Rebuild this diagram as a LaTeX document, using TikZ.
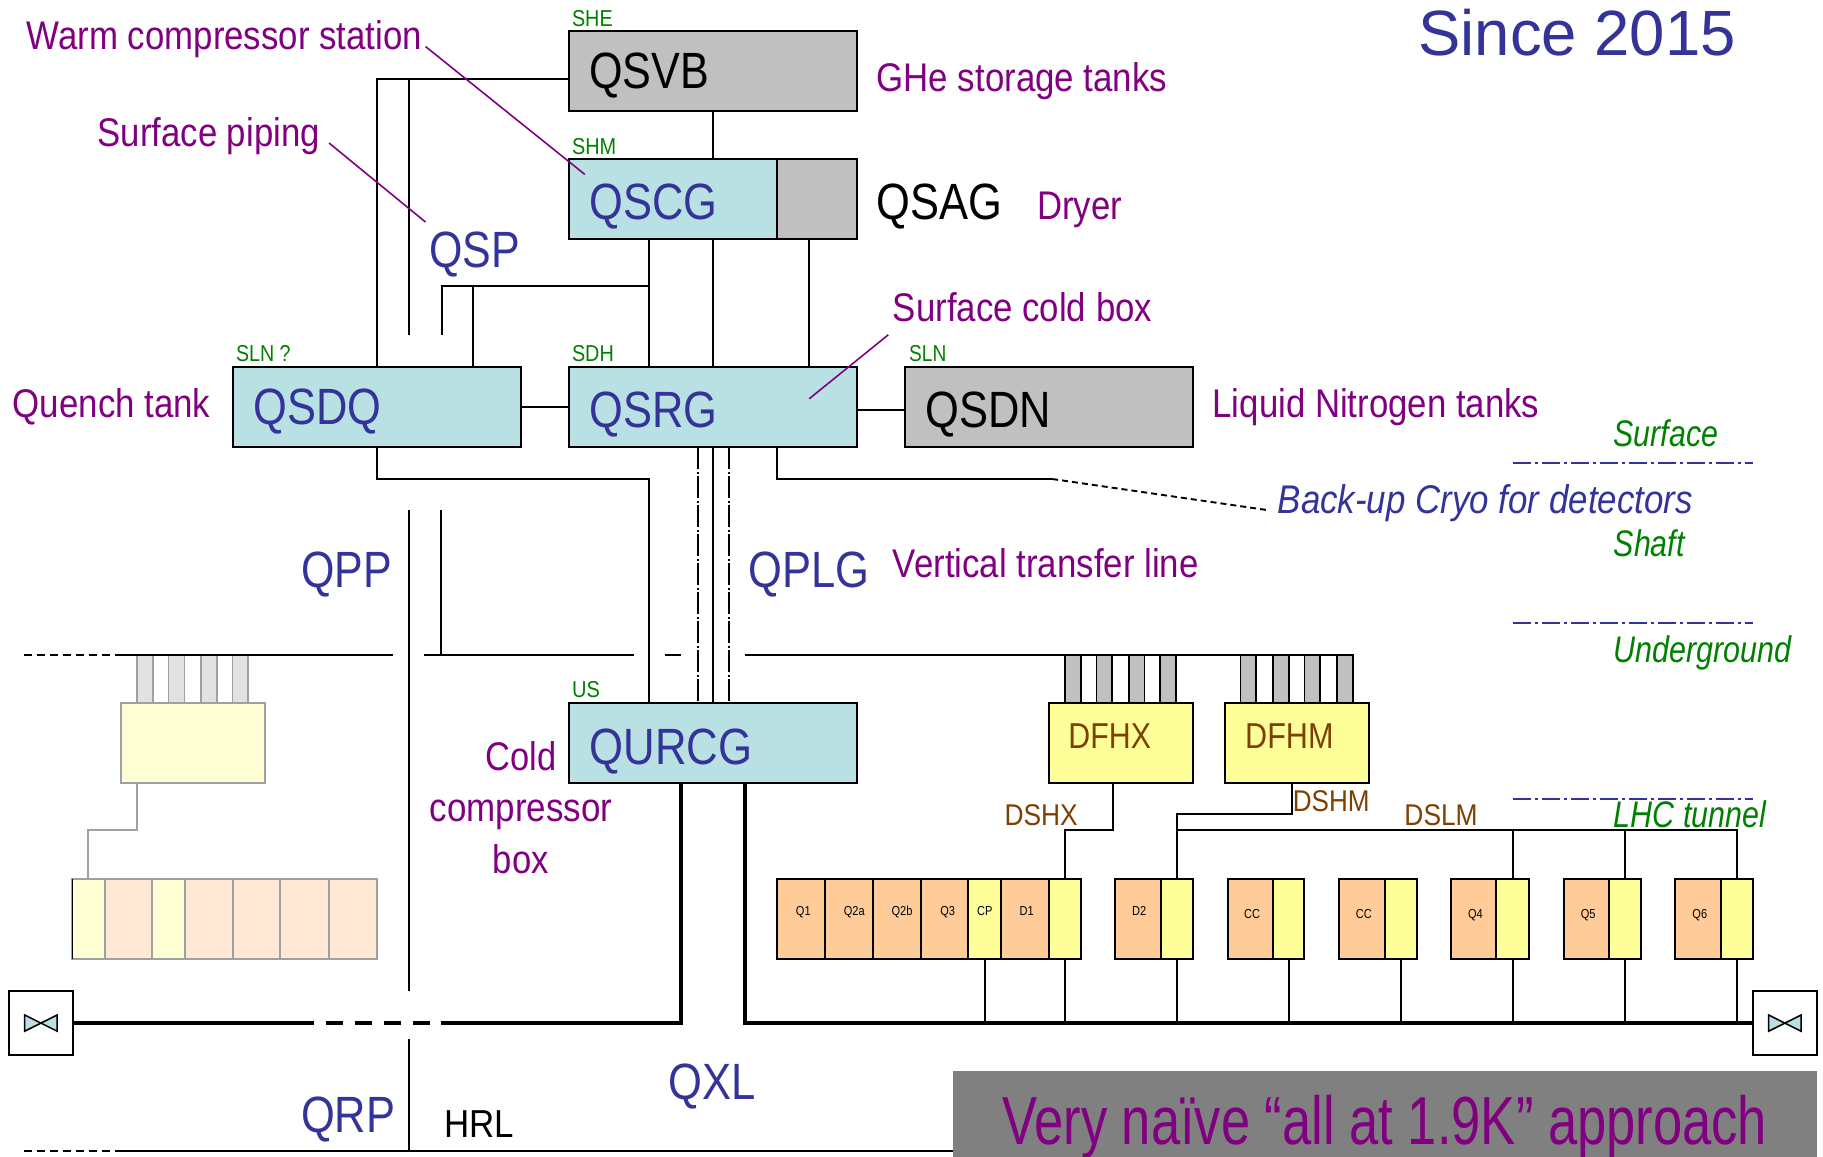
\documentclass[tikz,border=0pt]{standalone}
\usepackage{fontspec}
\usepackage{graphicx}
\setmainfont{Liberation Sans}
\definecolor{cblue}{HTML}{333399}
\definecolor{cpurple}{HTML}{800080}
\definecolor{cgreen}{HTML}{008000}
\definecolor{cbrown}{HTML}{7F3F00}
\definecolor{cteal}{HTML}{B9E0E2}
\definecolor{cgray}{HTML}{C0C0C0}
\definecolor{cyell}{HTML}{FFFF99}
\definecolor{cpeach}{HTML}{FFCC99}
\definecolor{lyell}{HTML}{FFFFD5}
\definecolor{lpeach}{HTML}{FFE9D5}
\definecolor{lstub}{HTML}{E2E2E2}
\definecolor{lline}{HTML}{A0A0A0}
\definecolor{cbar}{HTML}{808080}
\newsavebox\fitbx
\newcommand\fitw[2]{\leavevmode\sbox\fitbx{#2}\pgfmathsetmacro\fitr{#1*1.16263/\the\wd\fitbx}\scalebox{\fitr}[1]{\usebox\fitbx}}
\newcommand\fsz[1]{\fontsize{#1}{#1}\selectfont}
% text inside a box: width in px, baseline drop below box centre in pt
\newcommand\bxt[3]{\smash{\raisebox{-#3pt}{\fitw{#1}{#2}}}}
% cell labels: horizontal push, raise
\newcommand\cel[3]{\hspace*{#1pt}\smash{\raisebox{#2pt}{\scalebox{.85}[1]{#3}}}}
\tikzset{
  x=1.16263pt,y=-1.16263pt,
  sx/.style={xshift=#1*1.16263pt},
  sy/.style={yshift=-#1*1.16263pt},
  bx/.style 2 args={draw=black,line width=2pt,anchor=north west,outer sep=0pt,inner ysep=0pt,
     inner xsep=18*1.16263pt,minimum height=68.5*1.16263pt,text width=(#1-36)*1.16263pt,align=left,fill=#2},
  big/.style={font=\fsz{51}},
  plain/.style={draw=black,line width=2pt,anchor=north west,outer sep=0pt,inner sep=0pt,
     minimum height=68.5*1.16263pt,minimum width=#1*1.16263pt},
  stub/.style={anchor=north west,outer sep=0pt,inner sep=0pt,minimum height=42*1.16263pt,minimum width=13.5*1.16263pt},
  stubd/.style={stub,draw=#1},
  cell/.style 2 args={draw=black,line width=2pt,anchor=north west,outer sep=0pt,inner sep=0pt,
     minimum height=69*1.16263pt,minimum width=#1*1.16263pt,fill=#2,font=\fsz{13}},
  pcell/.style 2 args={draw=lline,line width=2pt,anchor=north west,outer sep=0pt,inner sep=0pt,
     minimum height=69*1.16263pt,minimum width=#1*1.16263pt,fill=#2},
  gate/.style={draw=black,line width=2pt,fill=white,minimum width=55.5*1.16263pt,minimum height=55*1.16263pt,outer sep=0pt,inner sep=0pt},
  lab/.style={anchor=base west,inner sep=0pt,outer sep=0pt},
  pur/.style={lab,text=cpurple,font=\fsz{40}},
  blu/.style={lab,text=cblue,font=\fsz{51}},
  grn/.style={lab,text=cgreen,font=\fsz{23}},
  itg/.style={lab,text=cgreen,font=\fsz{37}\itshape},
  brn/.style={lab,text=cbrown,font=\fsz{30}},
  wire/.style={draw=black,line width=2pt},
  thick wire/.style={draw=black,line width=4pt},
  thin wire/.style={draw=black,line width=1.9pt},
  cmark/.style={draw=cpurple,line width=1.6pt},
  level/.style={draw=cblue,line width=1.9pt,dash pattern=on 18pt off 4pt on 3pt off 4pt},
  ddot/.style={draw=black,line width=1.9pt,dash pattern=on 22pt off 3pt on 2pt off 2pt},
  ground/.style={draw=black,line width=2.1pt},
  gdash/.style={draw=black,line width=2.1pt,dash pattern=on 8pt off 5pt},
}
\begin{document}
\begin{tikzpicture}
\useasboundingbox (0,0) rectangle (1568,995);
% stubs (below main level line)
\foreach \n/\xx in {a/118,b/145,c/173,d/200}
  \node[stubd=lline,fill=lstub,line width=1.5pt] (stub\n) at (\xx,563) {};
\foreach \n/\xx in {a/916,b/943,c/971,d/998,e/1067,f/1095,g/1122,h/1150}
  \node[stubd=black,fill=cgray,line width=1.7pt] (stubr\n) at (\xx,563) {};
% main boxes
\node[bx={248}{cgray},big,text=black] (qsvb) at (489,27) {\bxt{103}{QSVB}{17.5}};
\node[bx={179}{cteal},big,text=cblue] (qscg) at (489,137) {\bxt{110}{QSCG}{20}};
\node[plain=69,fill=cgray] (qsagbox) at (668,137) {};
\node[bx={248}{cteal},big,text=cblue] (qsrg) at (489,316) {\bxt{110}{QSRG}{20}};
\node[bx={248}{cteal},big,text=cblue] (qsdq) at (200,316) {\bxt{110}{QSDQ}{17}};
\node[bx={248}{cgray},big,text=black] (qsdn) at (778,316) {\bxt{108}{QSDN}{20}};
\node[bx={248}{cteal},big,text=cblue] (qurcg) at (489,605) {\bxt{140}{QURCG}{21}};
\node[plain=124,draw=lline,fill=lyell] (lbox) at (104,605) {};
\node[bx={124}{cyell},font=\fsz{36},text=cbrown,inner xsep=17*1.16263pt,text width=90*1.16263pt] (dfhx) at (902,605) {\bxt{71}{DFHX}{5}};
\node[bx={123.5}{cyell},font=\fsz{36},text=cbrown,inner xsep=17*1.16263pt,text width=89.5*1.16263pt] (dfhm) at (1054,605) {\bxt{76}{DFHM}{5}};
% left string (pale)
\node[pcell={28}{lyell}] (p1) at (62,756) {};
\node[pcell={41}{lpeach}] (p2) at (90,756) {};
\node[pcell={28}{lyell}] (p3) at (131,756) {};
\node[pcell={41}{lpeach}] (p4) at (159,756) {};
\node[pcell={41}{lpeach}] (p5) at (200,756) {};
\node[pcell={42}{lpeach}] (p6) at (241,756) {};
\node[pcell={41}{lpeach}] (p7) at (283,756) {};
% right string
\node[cell={42}{cpeach}] (q1) at (668,756) {\cel{4.6}{3.8}{Q1}};
\node[cell={41}{cpeach}] (q2a) at (710,756) {\cel{10}{3.8}{Q2a}};
\node[cell={41}{cpeach}] (q2b) at (751,756) {\cel{10}{3.8}{Q2b}};
\node[cell={41}{cpeach}] (q3) at (792,756) {\cel{6}{3.8}{Q3}};
\node[cell={28}{cyell}] (cp) at (833,756) {\cel{0}{3.8}{CP}};
\node[cell={41}{cpeach}] (d1) at (861,756) {\cel{3.5}{3.8}{D1}};
\node[cell={28}{cyell}] (y1) at (902,756) {};
\node[cell={40}{cpeach}] (d2) at (959,756) {\cel{2}{3.8}{D2}};
\node[cell={27}{cyell}] (y2) at (999,756) {};
\node[cell={39}{cpeach}] (cc1) at (1056,756) {\cel{3.5}{0.9}{CC}};
\node[cell={27}{cyell}] (y3) at (1095,756) {};
\node[cell={39}{cpeach}] (cc2) at (1152,756) {\cel{3.5}{0.9}{CC}};
\node[cell={28}{cyell}] (y4) at (1191,756) {};
\node[cell={39}{cpeach}] (q4) at (1248,756) {\cel{3.5}{0.9}{Q4}};
\node[cell={28}{cyell}] (y5) at (1287,756) {};
\node[cell={39}{cpeach}] (q5) at (1345,756) {\cel{3.5}{0.9}{Q5}};
\node[cell={27.5}{cyell}] (y6) at (1384,756) {};
\node[cell={39}{cpeach}] (q6) at (1441,756) {\cel{3.5}{0.9}{Q6}};
\node[cell={27.5}{cyell}] (y7) at (1480,756) {};
% gates
\node[gate] (gl) at (35.2,880) {};
\node[gate] (gr) at (1535.2,880) {};
\foreach \g in {gl,gr}
  \draw[fill=cteal,draw=black,line width=1.5pt] ([sx=-14,sy=-7]\g.center) -- ([sx=14,sy=7]\g.center) -- ([sx=14,sy=-7]\g.center) -- ([sx=-14,sy=7]\g.center) -- cycle;
% bottom bar
\node[anchor=north west,fill=cbar,minimum width=743*1.16263pt,minimum height=74*1.16263pt,inner sep=0pt,outer sep=0pt] (bar) at (820,921) {};
% named free ends
\coordinate (j1) at (352,68);
\coordinate (e1) at (352,288);
\coordinate (e2) at (380,288);
\coordinate (j2) at (558,246);
\coordinate (j3) at (407,246);
\coordinate (j4) at (558,412);
\coordinate (j5) at (905,412);
\coordinate (e5) at (1092,439);
\coordinate (e3) at (352,439);
\coordinate (e4) at (352,852);
\coordinate (e6) at (352,894);
\coordinate (e7) at (379.5,439);
\coordinate (m0) at (21,563);
\coordinate (m1) at (103,563);
\coordinate (m2) at (338,563);
\coordinate (m3) at (365,563);
\coordinate (m4) at (545,563);
\coordinate (m5) at (572,563);
\coordinate (m6) at (586,563);
\coordinate (m7) at (641,563);
\coordinate (m8) at (1163,563);
\coordinate (b0) at (21,990);
\coordinate (b1) at (103,990);
\coordinate (t1) at (270,880);
\coordinate (t2) at (379,880);
\coordinate (j6) at (916,714);
\coordinate (j7) at (1012.5,700);
\coordinate (j8) at (1012.5,714);
\coordinate (g1) at (118,714);
\coordinate (g2) at (76,714);
% ground levels
\draw[gdash] (m0) -- (m1);
\draw[ground] (m1) -- (m2) (m3) -- (m4) (m5) -- (m6) (m7) -- (m8);
\draw[gdash] (b0) -- (b1);
\draw[ground] (b1) -- (bar.south west |- b1);
% surface connectors
\draw[wire] ([sy=7]qsvb.west) -| (qsdq.north);
\draw[wire] (j1) -- (e1);
\draw[wire] (e2) |- (j2);
\draw[wire] ([sx=83]qsdq.north) -- (j3);
\draw[wire] (qsvb.south) -- (qsvb.south |- qscg.north);
\draw[wire] ([sx=-55]qsrg.north) -- ([sx=-55]qsrg.north |- qscg.south);
\draw[wire] (qsrg.north) -- (qsrg.north |- qscg.south);
\draw[wire] ([sx=83]qsrg.north) -- ([sx=83]qsrg.north |- qsagbox.south);
\draw[wire] (qsdq.east) -- (qsrg.west);
\draw[wire] ([sy=2]qsrg.east) -- ([sy=2]qsdn.west);
\draw[wire] (qsrg.south) -- (qurcg.north);
\draw[ddot] ([sx=-13]qsrg.south) -- ([sx=-13]qurcg.north);
\draw[ddot] ([sx=14]qsrg.south) -- ([sx=14]qurcg.north);
\draw[wire] (qsdq.south) |- (j4) -- ([sx=-55]qurcg.north);
\draw[wire] ([sx=55]qsrg.south) |- (j5);
\draw[thin wire,dash pattern=on 6pt off 4pt] (j5) -- (e5);
\draw[wire] (e3) -- (e4);
\draw[wire] (e6) -- (e6 |- b1);
\draw[wire] (e7) -- (e7 |- m1);
% helium line
\draw[thick wire] (gl.east) -- (t1);
\draw[thick wire,dash pattern=on 17.5pt off 11.5pt] ([sx=10]t1) -- ([sx=-9]t2);
\draw[thick wire] (t2) -| ([sx=-27]qurcg.south);
\draw[thick wire] (gr.west) -| ([sx=28]qurcg.south);
% pale string link
\draw[draw=lline,line width=2pt] ([sx=-48]lbox.south) -- (g1) -- (g2) -- (g2 |- p1.north);
\draw[draw=black,line width=1pt] (p1.north west) -- (p1.south west);
% current feeds
\draw[wire] ([sx=-7]dfhx.south) |- (j6) -- (y1.north);
\draw[wire] ([sx=-4.5]dfhm.south) |- (j7) -- (y2.north);
\draw[wire] (j8) -| (y7.north);
\draw[thin wire] (y5.north) -- (y5.north |- j8);
\draw[thin wire] (y6.north) -- (y6.north |- j8);
\foreach \c in {cp,y1,y2,y3,y4,y5,y6,y7}
  \draw[thin wire] (\c.south) -- (\c.south |- gr.west);
% level lines
\coordinate (l1a) at (1301,398);\coordinate (l1b) at (1508,398);
\coordinate (l2a) at (1301,535.9);\coordinate (l2b) at (1508,535.9);
\coordinate (l3a) at (1301,687);\coordinate (l3b) at (1508,687);
\draw[level] (l1a) -- (l1b);
\draw[level] (l2a) -- (l2b);
\draw[level] (l3a) -- (l3b);
% labels
\node[pur] (warm) at (23,43) {\fitw{340}{Warm compressor station}};
\node[pur] (piping) at (84,125.6) {\fitw{191}{Surface piping}};
\node[pur] (ghe) at (754,79) {\fitw{250}{GHe storage tanks}};
\node[pur] (dryer) at (892,189) {\fitw{73}{Dryer}};
\node[pur] (scb) at (768,276.6) {\fitw{223}{Surface cold box}};
\node[pur] (quench) at (11,359) {\fitw{170}{Quench tank}};
\node[pur] (lnt) at (1043,359) {\fitw{281}{Liquid Nitrogen tanks}};
\node[pur] (vtl) at (768,497) {\fitw{263}{Vertical transfer line}};
\node[anchor=center,inner sep=0pt,outer sep=0pt,align=center,text=cpurple,font=\fontsize{40}{51.5}\selectfont] (cold) at (448,694.5) {\fitw{61}{Cold}\\\fitw{157}{compressor}\\\fitw{48}{box}};
\node[lab,big,text=black] (qsag) at (754,189) {\fitw{108}{QSAG}};
\node[blu] (qsp) at (369,230) {\fitw{78}{QSP}};
\node[blu] (qpp) at (259,505) {\fitw{78}{QPP}};
\node[blu] (qplg) at (644,505) {\fitw{104}{QPLG}};
\node[blu] (qxl) at (575,946) {\fitw{75}{QXL}};
\node[blu] (qrp) at (259,974) {\fitw{81}{QRP}};
\node[lab,text=black,font=\fsz{39}] (hrl) at (382,978) {\fitw{60}{HRL}};
\node[grn] (she) at (492,23) {\fitw{35}{SHE}};
\node[grn] (shm) at (492,133) {\fitw{38}{SHM}};
\node[grn] (slnq) at (203,311) {\fitw{47}{SLN ?}};
\node[grn] (sdh) at (492,311) {\fitw{36}{SDH}};
\node[grn] (sln) at (782,311) {\fitw{32}{SLN}};
\node[grn] (us) at (492,600) {\fitw{24}{US}};
\node[itg] (surf) at (1388,384) {\fitw{90}{Surface}};
\node[itg] (shaft) at (1388,479) {\fitw{61}{Shaft}};
\node[itg] (under) at (1388,570) {\fitw{153}{Underground}};
\node[itg] (tunnel) at (1388,712) {\fitw{131}{LHC tunnel}};
\node[lab,text=cblue,font=\fsz{40}\itshape] (backup) at (1099,442) {\fitw{357}{Back-up Cryo for detectors}};
\node[brn] (dshx) at (864,710) {\fitw{63}{DSHX}};
\node[brn] (dshm) at (1112,698) {\fitw{66}{DSHM}};
\node[brn] (dslm) at (1208,710) {\fitw{63}{DSLM}};
\node[lab,text=cblue,font=\fsz{64}] (since) at (1220,48) {\fitw{273}{Since 2015}};
\node[lab,text=cpurple,font=\fsz{68}] (naive) at (862,984) {\fitw{658}{Very naïve “all at 1.9K” approach}};
% pointer lines
\coordinate (pa1) at (366,40);\coordinate (pa2) at (503,150);
\coordinate (pb1) at (283,123);\coordinate (pb2) at (366,191);
\coordinate (pc1) at (764,288);\coordinate (pc2) at (696,343);
\draw[cmark] (pa1) -- (pa2);
\draw[cmark] (pb1) -- (pb2);
\draw[cmark] (pc1) -- (pc2);
\end{tikzpicture}
\end{document}
